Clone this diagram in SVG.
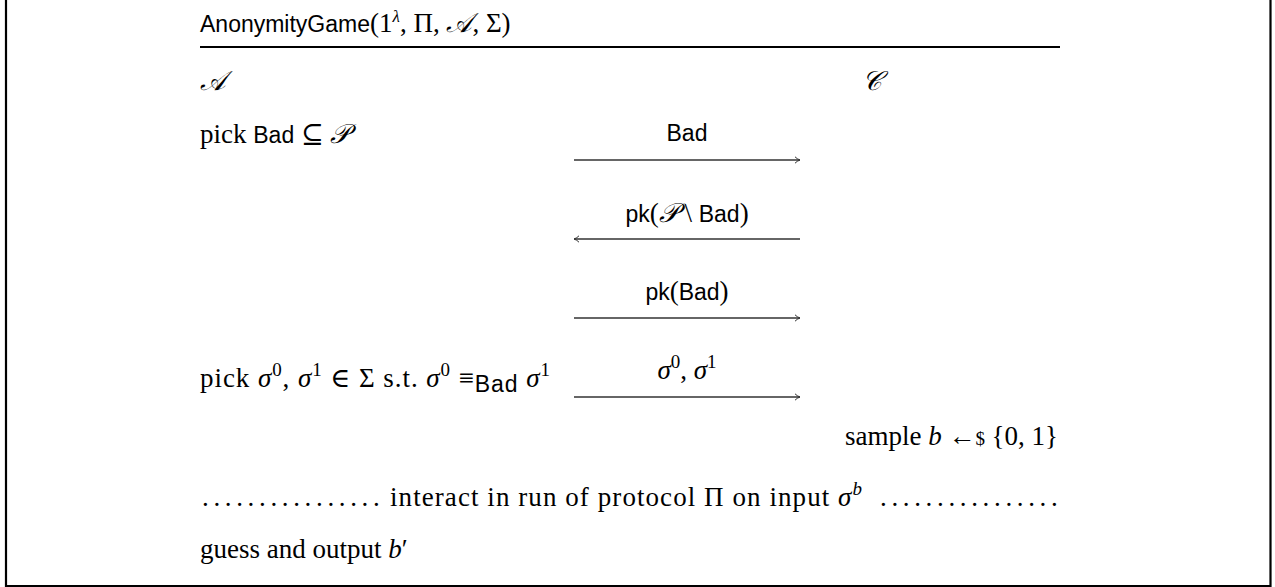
<svg xmlns="http://www.w3.org/2000/svg" width="1275" height="587" viewBox="0 0 1275 587">
<style>
.s{font-family:"Liberation Serif","DejaVu Serif",serif;font-size:27px;fill:#000}
.ss{font-family:"Liberation Sans","DejaVu Sans",sans-serif;font-size:23px}
.i{font-style:italic}
.cal{font-family:"DejaVu Serif","Liberation Serif",serif;font-style:italic}
.sup{font-size:19px}
.msg{stroke:#333;stroke-width:1.3;fill:none}
</style>
<defs>
<marker id="ah" markerWidth="8" markerHeight="8" refX="6" refY="4" orient="auto" markerUnits="userSpaceOnUse">
<path d="M1,0.8 Q3,3 6,4 Q3,5 1,7.2" fill="none" stroke="#333" stroke-width="1"/>
</marker>
</defs>
<rect width="1275" height="587" fill="#fff"/>
<g id="frame">
<path d="M6,0 V586 H1270.5 V0" fill="none" stroke="#000" stroke-width="2.2"/>
</g>
<g id="title">
<text class="s" x="200" y="32" font-size="24"><tspan class="ss" font-size="22">AnonymityGame</tspan>(1<tspan dy="-10" font-size="17" class="i">λ</tspan><tspan dy="10">, Π, </tspan><tspan class="cal">𝒜</tspan>, Σ)</text>
<line x1="200" y1="47" x2="1060" y2="47" stroke="#000" stroke-width="2"/>
</g>
<g id="party-A"><text class="s cal" x="200" y="90">𝒜</text></g>
<g id="party-C"><text class="s cal" x="862" y="90">𝒞</text></g>
<g id="step-pick-bad"><text class="s" x="200" y="143">pick <tspan class="ss">Bad</tspan> ⊆ <tspan class="cal">𝒫</tspan></text></g>
<g id="step-pick-sigma"><text class="s" x="200" y="387" textLength="350" lengthAdjust="spacing">pick <tspan class="i">σ</tspan><tspan dy="-11" class="sup">0</tspan><tspan dy="11">, </tspan><tspan class="i">σ</tspan><tspan dy="-11" class="sup">1</tspan><tspan dy="11"> ∈ Σ s.t. </tspan><tspan class="i">σ</tspan><tspan dy="-11" class="sup">0</tspan><tspan dy="11"> ≡</tspan><tspan class="ss" font-size="17" dy="5">Bad</tspan><tspan dy="-5"> </tspan><tspan class="i">σ</tspan><tspan dy="-11" class="sup">1</tspan></text></g>
<g id="step-sample"><text class="s" x="845" y="445" textLength="213" lengthAdjust="spacing">sample <tspan class="i">b</tspan> ←<tspan font-size="19">$</tspan> {0, 1}</text></g>
<g id="step-interact">
<text class="s" x="202" y="506" letter-spacing="4.65">................</text>
<text class="s" x="390" y="506" textLength="472" lengthAdjust="spacing">interact in run of protocol Π on input <tspan class="i">σ</tspan><tspan dy="-11" class="sup i">b</tspan></text>
<text class="s" x="880" y="506" letter-spacing="4.65">................</text>
</g>
<g id="step-guess"><text class="s" x="200" y="558">guess and output <tspan class="i">b</tspan>′</text></g>
<g id="connectors">
<line class="msg" x1="574" y1="160" x2="800" y2="160" marker-end="url(#ah)"/>
<text class="ss" x="687" y="141" text-anchor="middle">Bad</text>
<line class="msg" x1="800" y1="239" x2="574" y2="239" marker-end="url(#ah)"/>
<text class="s" x="687" y="222" text-anchor="middle"><tspan class="ss">pk</tspan>(<tspan class="cal">𝒫</tspan> \ <tspan class="ss">Bad</tspan>)</text>
<line class="msg" x1="574" y1="318" x2="800" y2="318" marker-end="url(#ah)"/>
<text class="s" x="687" y="300" text-anchor="middle"><tspan class="ss">pk</tspan>(<tspan class="ss">Bad</tspan>)</text>
<line class="msg" x1="574" y1="397" x2="800" y2="397" marker-end="url(#ah)"/>
<text class="s" x="687" y="379" text-anchor="middle"><tspan class="i">σ</tspan><tspan dy="-11" class="sup">0</tspan><tspan dy="11">, </tspan><tspan class="i">σ</tspan><tspan dy="-11" class="sup">1</tspan></text>
</g>
</svg>
